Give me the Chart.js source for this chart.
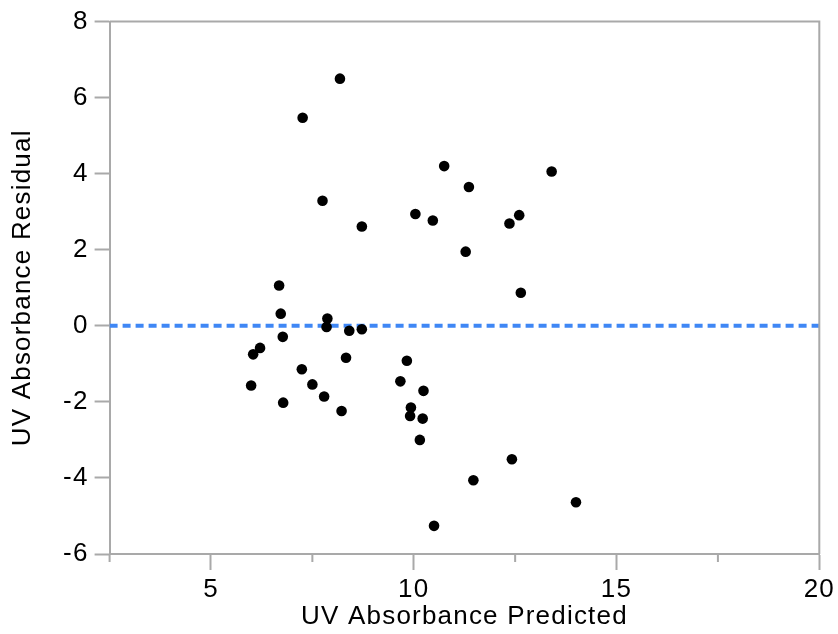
<!DOCTYPE html>
<html>
<head>
<meta charset="utf-8">
<title>UV Absorbance Residual by Predicted</title>
<script src="https://cdn.jsdelivr.net/npm/chart.js@4/dist/chart.umd.min.js"></script>
<style>
  html, body { margin: 0; padding: 0; background: #ffffff; }
  #wrap { width: 838px; height: 634px; }
</style>
</head>
<body>
<div id="wrap"><canvas id="residualPlot" width="838" height="634"></canvas></div>
<script>
// Predicted UV absorbance for each sample
const predicted = [
  8.18, 7.26, 10.75, 7.75, 10.04, 10.47, 8.72, 6.68,
  6.72, 7.87, 7.85, 6.77, 8.41, 8.72, 6.21, 6.04,
  8.33, 9.83, 7.24, 5.99, 7.50, 9.67, 10.24, 7.79,
  6.78, 8.22, 9.93, 9.91, 10.22, 11.36, 13.40, 12.36,
  12.60, 11.28, 12.64, 10.15, 12.42, 11.47, 14.00, 10.50
];

// Residual (observed minus predicted) for the same samples
const residual = [
  6.50, 5.47, 4.20, 3.29, 2.94, 2.77, 2.61, 1.06,
  0.32, 0.19, -0.03, -0.29, -0.13, -0.09, -0.58, -0.75,
  -0.84, -0.92, -1.14, -1.57, -1.54, -1.46, -1.71, -1.86,
  -2.02, -2.24, -2.15, -2.37, -2.44, 3.65, 4.06, 2.69,
  2.91, 1.95, 0.87, -3.00, -3.51, -4.06, -4.64, -5.26
];

// Axis ranges and tick labels
const xRange = [2.5, 20];
const yRange = [-6, 8];
const xTickLabels = [5, 10, 15, 20];
const xMinorTicks = [2.5, 7.5, 12.5, 17.5];
const yTickLabels = [-6, -4, -2, 0, 2, 4, 6, 8];
const referenceResidual = 0;

const AXIS_GREY = '#a9a9a9';
const TEXT_COLOR = '#000000';
const FONT_FAMILY = '"Liberation Sans", Arial, Helvetica, sans-serif';

const points = predicted.map((p, i) => ({ x: p, y: residual[i] }));
const zeroLine = [
  { x: xRange[0], y: referenceResidual },
  { x: xRange[1], y: referenceResidual }
];

// Short minor ticks on the x axis plus the top/right frame of the plot box
const frameAndMinorTicks = {
  id: 'frameAndMinorTicks',
  beforeDraw(chart) {
    chart.ctx.letterSpacing = '1.2px';
  },
  afterDraw(chart) {
    const { ctx, chartArea, scales } = chart;
    ctx.save();
    ctx.strokeStyle = AXIS_GREY;
    ctx.lineWidth = 2;
    ctx.beginPath();
    ctx.moveTo(chartArea.left, chartArea.top);
    ctx.lineTo(chartArea.right, chartArea.top);
    ctx.lineTo(chartArea.right, chartArea.bottom);
    ctx.stroke();
    ctx.beginPath();
    xMinorTicks.forEach(v => {
      const px = scales.x.getPixelForValue(v);
      ctx.moveTo(px, chartArea.bottom);
      ctx.lineTo(px, chartArea.bottom + 8);
    });
    ctx.stroke();
    ctx.restore();
  }
};

new Chart(document.getElementById('residualPlot'), {
  type: 'scatter',
  data: {
    datasets: [
      {
        type: 'line',
        data: zeroLine,
        borderColor: '#3f87f5',
        borderWidth: 4,
        borderDash: [8, 5],
        pointRadius: 0,
        fill: false,
        order: 2
      },
      {
        data: points,
        backgroundColor: '#000000',
        borderWidth: 0,
        pointRadius: 5.3,
        order: 1
      }
    ]
  },
  options: {
    responsive: false,
    animation: false,
    devicePixelRatio: 1,
    layout: { padding: { left: 0, top: 20, right: 18.7, bottom: 0 } },
    plugins: { legend: { display: false }, tooltip: { enabled: false } },
    scales: {
      x: {
        type: 'linear',
        min: xRange[0],
        max: xRange[1],
        afterFit(scale) { scale.height = 80; },
        ticks: {
          stepSize: 2.5,
          autoSkip: false,
          maxRotation: 0,
          padding: 4,
          color: TEXT_COLOR,
          font: { family: FONT_FAMILY, size: 26 },
          callback: v => (xTickLabels.includes(v) ? String(v) : '')
        },
        grid: {
          drawOnChartArea: false,
          drawTicks: true,
          tickLength: 16,
          tickWidth: 2,
          tickColor: ctx => (ctx.tick && xTickLabels.includes(ctx.tick.value) ? AXIS_GREY : 'rgba(0,0,0,0)')
        },
        border: { display: true, color: AXIS_GREY, width: 2 },
        title: {
          display: true,
          text: 'UV Absorbance Predicted',
          color: TEXT_COLOR,
          font: { family: FONT_FAMILY, size: 26 },
          padding: { top: 0, bottom: 1.5 }
        }
      },
      y: {
        type: 'linear',
        min: yRange[0],
        max: yRange[1],
        afterFit(scale) { scale.width = 109.6; },
        ticks: {
          stepSize: 2,
          autoSkip: false,
          padding: 6,
          color: TEXT_COLOR,
          font: { family: FONT_FAMILY, size: 26 },
          callback: v => (yTickLabels.includes(v) ? String(v) : '')
        },
        grid: {
          drawOnChartArea: false,
          drawTicks: true,
          tickLength: 15,
          tickWidth: 2,
          tickColor: AXIS_GREY
        },
        border: { display: true, color: AXIS_GREY, width: 2 },
        title: {
          display: true,
          text: 'UV Absorbance Residual',
          color: TEXT_COLOR,
          font: { family: FONT_FAMILY, size: 26 },
          padding: { top: 7.4, bottom: 0 }
        }
      }
    }
  },
  plugins: [frameAndMinorTicks]
});
</script>
</body>
</html>
